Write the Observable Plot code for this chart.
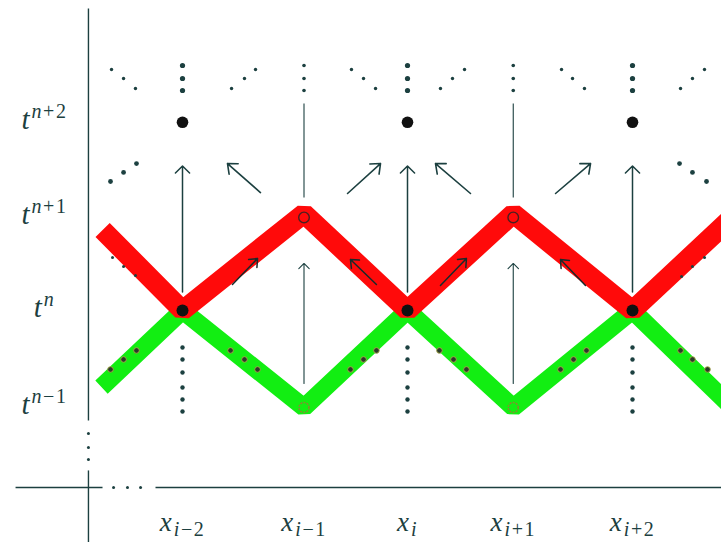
<!DOCTYPE html>
<html><head><meta charset="utf-8">
<script src="https://cdn.jsdelivr.net/npm/d3@7"></script>
<script src="https://cdn.jsdelivr.net/npm/@observablehq/plot@0.6"></script>
<style>html,body{margin:0;padding:0;background:#fff;overflow:hidden}</style>
</head><body><div id="chart"></div>
<script>
// x in cell units (x_i = 0), y in time levels (t^n = 0)
const colLabelX = [-2, -0.92, 0, 0.94, 2];
const colLabels = ["x|i−2", "x|i−1", "x|i", "x|i+1", "x|i+2"];
const fullCols = [-2, 0, 2];
const halfCols = [-0.92, 0.94];
const rowLabelY = [1.97, 0.99, 0.03, -0.97];
const rowLabels = ["t^n+2", "t^n+1", "t^n", "t^n−1"];

// thick zig-zag bands
const redBandU = [-2.71, -2, -0.92, 0, 0.94, 2, 2.95];
const redBandV = [0.83, 0, 1, 0, 1, 0, 1.03];
const greenBandU = [-2.72, -2, -0.92, 0, 0.94, 2, 2.95];
const greenBandV = [-0.79, 0, -1, 0, -1, 0, -1.07];

// column dot levels
const topDotV = [2.526, 2.392, 2.268];
const bigDotV = 1.94;
const nodeDotV = 0;
const belowDotV = [-0.381, -0.505, -0.639, -0.794, -0.918, -1.041];

// vertical arrows / lines
const fullArrowV = [0.19, 1.49];
const halfArrowV = [-0.753, 0.485];
const halfLineV = [1.165, 2.134];

// diagonal arrows above red band [u1, v1, u2, v2]
const upperArrows = [
  [-1.307, 1.216, -1.60, 1.515],
  [-0.533, 1.206, -0.24, 1.515],
  [0.56, 1.206, 0.249, 1.515],
  [1.316, 1.206, 1.627, 1.515]
];
// arrows inside red band
const innerArrows = [
  [-1.556, 0.268, -1.333, 0.536],
  [-0.276, 0.268, -0.507, 0.526],
  [0.293, 0.258, 0.524, 0.536],
  [1.582, 0.258, 1.36, 0.526]
];

// loose dot triplets
const topTripU = [
  [-2.631, -2.524, -2.418], [-1.564, -1.449, -1.351], [-0.498, -0.391, -0.284],
  [0.293, 0.40, 0.507], [1.369, 1.467, 1.573], [2.427, 2.533, 2.64]
];
const topTripV = [
  [2.485, 2.392, 2.289], [2.289, 2.392, 2.485], [2.485, 2.392, 2.289],
  [2.289, 2.392, 2.485], [2.485, 2.392, 2.289], [2.289, 2.392, 2.485]
];
const midTripU = [[-2.64, -2.524, -2.409], [2.418, 2.533, 2.658]];
const midTripV = [[1.33, 1.423, 1.515], [1.515, 1.423, 1.33]];
const redTripU = [[-2.622, -2.524, -2.418], [2.64, 2.533, 2.436]];
const redTripV = [[0.546, 0.454, 0.361], [0.546, 0.454, 0.351]];
const greenTripU = [
  [-2.64, -2.524, -2.409], [-1.573, -1.449, -1.333], [-0.507, -0.391, -0.276],
  [0.284, 0.409, 0.524], [1.36, 1.476, 1.591], [2.427, 2.533, 2.667]
];
const greenTripV = [
  [-0.608, -0.505, -0.412], [-0.412, -0.505, -0.608], [-0.608, -0.505, -0.412],
  [-0.412, -0.505, -0.608], [-0.608, -0.505, -0.412], [-0.412, -0.505, -0.608]
];
const redCircleV = 0.959;
const greenCircleV = -1.0;

// axes
const axisU = -2.836;
const axisVSegs = [[3.113, -1.134], [-1.649, -2.40]];
const axisVDots = [-1.268, -1.412, -1.536];
const axisHV = -1.825;
const axisHSegs = [[-3.484, -2.711], [-2.24, 2.80]];
const axisHDots = [-2.613, -2.489, -2.373];

// ---------- build tables ----------
const ink = "#1c4040";
const zip = (U, V) => U.map((u, i) => ({u, v: V[i]}));
const trip = (UU, VV) => UU.flatMap((U, k) => zip(U, VV[k]));
const red = zip(redBandU, redBandV);
const green = zip(greenBandU, greenBandV);
const cross = (us, vs) => us.flatMap(u => vs.map(v => ({u, v})));
const toArrow = a => ({u1: a[0], v1: a[1], u2: a[2], v2: a[3]});

const serif = "'Liberation Serif', 'DejaVu Serif', serif";

const chart = Plot.plot({
  width: 721, height: 542, margin: 0,
  x: {domain: [-3.6178, 2.7911], axis: null},
  y: {domain: [-2.392, 3.196], axis: null},
  style: {background: "white", overflow: "hidden"},
  marks: [
    // axes
    Plot.link(axisVSegs.map(s => ({u: axisU, a: s[0], b: s[1]})), {x1: "u", x2: "u", y1: "a", y2: "b", stroke: ink, strokeWidth: 1.4}),
    Plot.link(axisHSegs.map(s => ({a: s[0], b: s[1], v: axisHV})), {x1: "a", x2: "b", y1: "v", y2: "v", stroke: ink, strokeWidth: 1.4}),
    Plot.dot(axisVDots.map(v => ({u: axisU, v})), {x: "u", y: "v", r: 1.5, fill: ink}),
    Plot.dot(axisHDots.map(u => ({u, v: axisHV})), {x: "u", y: "v", r: 1.5, fill: ink}),
    // column dots
    Plot.dot(cross(fullCols, topDotV), {x: "u", y: "v", r: 2.6, fill: ink}),
    Plot.dot(cross(halfCols, topDotV), {x: "u", y: "v", r: 1.8, fill: ink}),
    Plot.dot(cross(fullCols, [bigDotV]), {x: "u", y: "v", r: 5.8, fill: "#111"}),
    Plot.dot(cross(fullCols, belowDotV), {x: "u", y: "v", r: 2.2, fill: ink}),
    // loose triplets
    Plot.dot(trip(topTripU, topTripV), {x: "u", y: "v", r: 1.7, fill: ink}),
    Plot.dot(trip(midTripU, midTripV), {x: "u", y: "v", r: 2.4, fill: ink}),
    // thin lines / arrows
    Plot.link(halfCols.map(u => ({u})), {x1: "u", x2: "u", y1: () => halfLineV[0], y2: () => halfLineV[1], stroke: ink, strokeWidth: 1.1}),
    Plot.arrow(upperArrows.map(toArrow), {x1: "u1", y1: "v1", x2: "u2", y2: "v2", stroke: ink, strokeWidth: 1.6, headLength: 10, headAngle: 80}),
    // bands
    Plot.line(green, {x: "u", y: "v", stroke: "#12ee12", strokeWidth: 18, strokeLinejoin: "miter", strokeLinecap: "butt", clip: true}),
    Plot.line(red, {x: "u", y: "v", stroke: "#ff0a0a", strokeWidth: 20, strokeLinejoin: "miter", strokeLinecap: "butt", clip: true}),
    // vertical arrows
    Plot.arrow(fullCols.map(u => ({u})), {x1: "u", x2: "u", y1: () => fullArrowV[0], y2: () => fullArrowV[1], stroke: ink, strokeWidth: 1.5, headLength: 10, headAngle: 90}),
    Plot.arrow(halfCols.map(u => ({u})), {x1: "u", x2: "u", y1: () => halfArrowV[0], y2: () => halfArrowV[1], stroke: ink, strokeWidth: 1.1, headLength: 10, headAngle: 90}),
    Plot.arrow(innerArrows.map(toArrow), {x1: "u1", y1: "v1", x2: "u2", y2: "v2", stroke: "#1a2a2a", strokeWidth: 1.5, headLength: 9, headAngle: 80}),
    // dots on bands
    Plot.dot(trip(redTripU, redTripV), {x: "u", y: "v", r: 1.5, fill: ink}),
    Plot.dot(trip(greenTripU, greenTripV), {x: "u", y: "v", r: 2.8, fill: "#2a3a2a", stroke: "#a8a848", strokeWidth: 0.9}),
    Plot.dot(cross(halfCols, [redCircleV]), {x: "u", y: "v", r: 5.3, fill: "none", stroke: "#4a2020", strokeWidth: 1.4}),
    Plot.dot(cross(halfCols, [greenCircleV]), {x: "u", y: "v", r: 5, fill: "none", stroke: "#8a8a30", strokeWidth: 1.5, strokeDasharray: "2,1.2"}),
    Plot.dot(cross(fullCols, [nodeDotV]), {x: "u", y: "v", r: 6, fill: "#111"}),
    // labels
    Plot.text(rowLabels.map((s, i) => ({s, u: -3.227, v: rowLabelY[i]})), {x: "u", y: "v", text: "s", fontFamily: serif, fontSize: 29, fontStyle: "italic", fill: ink, textAnchor: "middle"}),
    Plot.text(colLabels.map((s, i) => ({s, u: colLabelX[i], v: -2.182})), {x: "u", y: "v", text: "s", fontFamily: serif, fontSize: 27, fontStyle: "italic", fill: ink, textAnchor: "middle"})
  ]
});

// turn "t^n+2" / "x|i-2" into base + superscript / subscript tspans
const ns = "http://www.w3.org/2000/svg";
chart.querySelectorAll("text").forEach(t => {
  const txt = t.textContent;
  const sup = txt.includes("^"), sub = txt.includes("|");
  if (!sup && !sub) return;
  const [a, b] = txt.split(sup ? "^" : "|");
  const shift = sup ? "-11" : "5";
  const size = 20;
  t.textContent = "";
  t.style.fontFamily = serif;
  t.style.fontStyle = "italic";
  const s1 = document.createElementNS(ns, "tspan");
  s1.textContent = a;
  t.append(s1);
  b.match(/[a-z]+|[^a-z]+/g).forEach((p, k) => {
    const s = document.createElementNS(ns, "tspan");
    s.textContent = p;
    s.setAttribute("font-size", size);
    s.setAttribute("letter-spacing", "1.5");
    if (!/[a-z]/.test(p)) s.style.fontStyle = "normal";
    if (k === 0) { s.setAttribute("dy", shift); s.setAttribute("dx", "2"); }
    t.append(s);
  });
});
document.getElementById("chart").append(chart);
</script>
</body></html>
